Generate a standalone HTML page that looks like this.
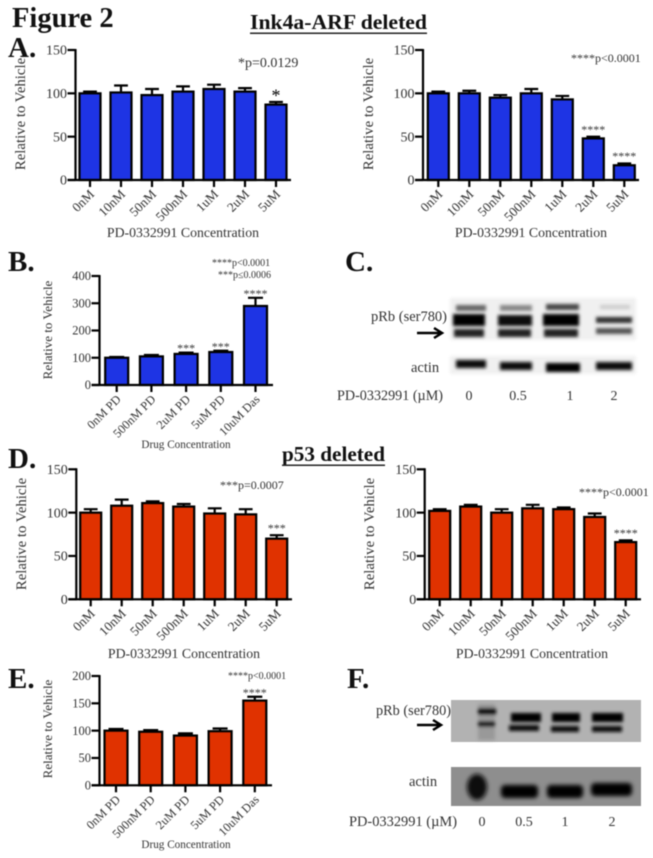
<!DOCTYPE html>
<html>
<head>
<meta charset="utf-8">
<title>Figure 2</title>
<style>
html,body{margin:0;padding:0;background:#fff;}
svg{display:block;font-family:"Liberation Serif",serif;}
#page{filter:blur(0.55px);}
</style>
</head>
<body>
<svg id="page" xmlns="http://www.w3.org/2000/svg" width="653" height="858" viewBox="0 0 653 858">
<defs>
<filter id="b1" x="-30%" y="-100%" width="160%" height="300%"><feGaussianBlur stdDeviation="1.6"/></filter>
<filter id="b2" x="-30%" y="-100%" width="160%" height="300%"><feGaussianBlur stdDeviation="2.2"/></filter>
</defs>
<rect width="653" height="858" fill="#fff"/>

<text x="12" y="27" font-size="28.500" font-weight="bold" fill="#111">Figure 2</text>
<text x="250" y="29" font-size="21" font-weight="bold" fill="#111" textLength="177" lengthAdjust="spacingAndGlyphs">Ink4a-ARF deleted</text>
<rect x="250" y="32.500" width="177" height="1.500" fill="#222"/>
<text x="282" y="461" font-size="21" font-weight="bold" fill="#111" textLength="103" lengthAdjust="spacingAndGlyphs">p53 deleted</text>
<rect x="282" y="464.500" width="103" height="1.500" fill="#222"/>

<text x="8" y="57" font-size="29" font-weight="bold" fill="#111">A.</text>
<text x="8" y="271" font-size="29" font-weight="bold" fill="#111">B.</text>
<text x="345" y="271" font-size="29" font-weight="bold" fill="#111">C.</text>
<text x="8" y="468" font-size="29" font-weight="bold" fill="#111">D.</text>
<text x="8" y="688" font-size="29" font-weight="bold" fill="#111">E.</text>
<text x="347" y="688" font-size="29" font-weight="bold" fill="#111">F.</text>

<text x="238" y="67" font-size="14" fill="#333">*p=0.0129</text>
<text x="571" y="62" font-size="12" fill="#333">****p&lt;0.0001</text>
<text x="212" y="266" font-size="10" fill="#333">****p&lt;0.0001</text>
<text x="218" y="278" font-size="10" fill="#333">***p≤0.0006</text>
<text x="220" y="489" font-size="12" fill="#333">***p=0.0007</text>
<text x="579" y="496" font-size="12" fill="#333">****p&lt;0.0001</text>
<text x="228" y="679" font-size="10" fill="#333">****p&lt;0.0001</text>

<g id="charts"></g>

<!-- Blot C -->
<g>
<rect x="450" y="298" width="186" height="42" fill="#f0f0f0" filter="url(#b1)"/>
<rect x="450" y="356" width="186" height="18" fill="#f0f0f0" filter="url(#b1)"/>
<g filter="url(#b1)">
<rect x="456" y="305" width="30" height="6" fill="#666"/><rect x="500" y="305" width="32" height="6" fill="#888"/><rect x="546" y="304" width="33" height="6" fill="#444"/><rect x="600" y="305" width="30" height="4" fill="#ccc"/>
<rect x="453" y="314" width="32" height="12" fill="#000"/><rect x="498" y="315" width="34" height="11" fill="#0c0c0c"/><rect x="543" y="314" width="36" height="12" fill="#000"/><rect x="596" y="317" width="36" height="6" fill="#333"/>
<rect x="454" y="329" width="30" height="8" fill="#222"/><rect x="498" y="329" width="33" height="8" fill="#222"/><rect x="544" y="329" width="34" height="8" fill="#222"/><rect x="596" y="328" width="36" height="6" fill="#555"/>
</g>
<g filter="url(#b1)">
<rect x="456" y="360" width="30" height="8" fill="#111"/><rect x="500" y="362" width="32" height="8" fill="#111"/><rect x="546" y="363" width="34" height="9" fill="#000"/><rect x="596" y="362" width="36" height="8" fill="#111"/>
</g>
</g>
<text x="371" y="321" font-size="14.500" fill="#333" textLength="76" lengthAdjust="spacingAndGlyphs">pRb (ser780)</text>
<path d="M417 333H441M434 328L442 333L434 338" fill="none" stroke="#000" stroke-width="2.500"/>
<text x="411" y="372" font-size="14.500" fill="#333">actin</text>
<text x="337" y="400" font-size="14.500" fill="#333" textLength="106" lengthAdjust="spacingAndGlyphs">PD-0332991 (µM)</text>
<text x="469" y="400" font-size="14" fill="#333" text-anchor="middle">0</text>
<text x="518" y="400" font-size="14" fill="#333" text-anchor="middle">0.5</text>
<text x="570" y="400" font-size="14" fill="#333" text-anchor="middle">1</text>
<text x="614" y="400" font-size="14" fill="#333" text-anchor="middle">2</text>

<!-- Blot F -->
<g>
<rect x="451" y="700" width="190" height="42" fill="#b2b2b2"/>
<rect x="451" y="767" width="190" height="39" fill="#8e8e8e"/>
<g filter="url(#b1)">
<rect x="478" y="704" width="17" height="36" fill="#999"/>
<rect x="478" y="708" width="18" height="7" fill="#111"/><rect x="478" y="721" width="17" height="6" fill="#222"/>
<rect x="511" y="713" width="30" height="9" fill="#000"/><rect x="509" y="725" width="30" height="6" fill="#111"/>
<rect x="552" y="713" width="28" height="9" fill="#000"/><rect x="551" y="726" width="28" height="6" fill="#111"/>
<rect x="592" y="713" width="31" height="9" fill="#000"/><rect x="592" y="726" width="30" height="6" fill="#111"/>
</g>
<g filter="url(#b2)">
<ellipse cx="477" cy="787" rx="10" ry="13" fill="#111"/>
<rect x="501" y="785" width="37" height="13" rx="4" fill="#000"/>
<rect x="547" y="785" width="36" height="13" rx="4" fill="#000"/>
<rect x="591" y="783" width="41" height="13" rx="4" fill="#000"/>
</g>
</g>
<text x="376" y="715" font-size="14.500" fill="#333" textLength="75" lengthAdjust="spacingAndGlyphs">pRb (ser780)</text>
<path d="M417 725H440M433 720L441 725L433 730" fill="none" stroke="#000" stroke-width="2.500"/>
<text x="409" y="786" font-size="14.500" fill="#333">actin</text>
<text x="349" y="826" font-size="14.500" fill="#333" textLength="108" lengthAdjust="spacingAndGlyphs">PD-0332991 (µM)</text>
<text x="482" y="826" font-size="14" fill="#333" text-anchor="middle">0</text>
<text x="524" y="826" font-size="14" fill="#333" text-anchor="middle">0.5</text>
<text x="565" y="826" font-size="14" fill="#333" text-anchor="middle">1</text>
<text x="612" y="826" font-size="14" fill="#333" text-anchor="middle">2</text>
</svg>

<script>
var doseCategories = ['0nM','10nM','50nM','500nM','1uM','2uM','5uM'];
var drugCategories = ['0nM PD','500nM PD','2uM PD','5uM PD','10uM Das'];
var ticks150 = [0,50,100,150];
var ticksB = [0,100,200,300,400];
var ticksE = [0,50,100,150,200];

var valuesA1 = [100,101,98,102,105,102,87];
var errorsA1 = [2,8,7,6,5,4,3];
var starsA1 = ['','','','','','','*'];

var valuesA2 = [100,100,95,100,93,48,17];
var errorsA2 = [2,3,3,5,4,2,2];
var starsA2 = ['','','','','','****','****'];

var valuesB = [100,105,114,121,290];
var errorsB = [3,5,5,5,30];
var starsB = ['','','***','***','****'];

var valuesD1 = [100,108,111,107,99,98,70];
var errorsD1 = [4,7,2,3,6,6,4];
var starsD1 = ['','','','','','','***'];

var valuesD2 = [102,107,100,105,104,95,66];
var errorsD2 = [2,2,4,4,2,4,2];
var starsD2 = ['','','','','','','****'];

var valuesE = [100,98,91,99,155];
var errorsE = [3,3,4,5,7];
var starsE = ['','','','','****'];

var NS = 'http://www.w3.org/2000/svg';
var root = document.getElementById('charts');

function mk(tag, attrs, parent, text) {
  var el = document.createElementNS(NS, tag);
  for (var k in attrs) el.setAttribute(k, attrs[k]);
  if (text !== undefined) el.textContent = text;
  parent.appendChild(el);
  return el;
}

function drawChart(o) {
  var g = mk('g', {}, root);
  
  
  var yMax = o.ticks[o.ticks.length - 1];
  function yScale(v) { return o.y0 - (o.y0 - o.yTop) * v / yMax; }
  function xScale(i) { return o.firstX + o.step * i; }
  var ink = '#000';

  o.values.forEach(function (v, i) {
    var cx = xScale(i), top = yScale(v), et = yScale(v + o.errors[i]);
    var err = mk('path', {d: 'M' + cx + ' ' + top + 'V' + et + 'M' + (cx - o.barW * 0.3) + ' ' + et + 'H' + (cx + o.barW * 0.3), stroke: ink, 'stroke-width': 2.2, fill: 'none'}, g);
    
    
    var bar = mk('rect', {x: cx - o.barW / 2 + 1, y: top, width: o.barW - 2, height: o.y0 - top, fill: o.color, stroke: ink, 'stroke-width': 2.2}, g);
    
    
    if (o.stars[i]) {
      var size = o.stars[i] === '*' ? 18 : o.starSize;
      var star = mk('text', {x: cx, y: et - o.starGap + 0.47 * size, 'font-size': size, 'text-anchor': 'middle', fill: o.stars[i] === '*' ? '#000' : '#333'}, g, o.stars[i]);
      
      
    }
    var tick = mk('line', {x1: cx, x2: cx, y1: o.y0, y2: o.y0 + 7, stroke: ink, 'stroke-width': 2.2}, g);
    
    
    var lx = cx + 5, ly = o.y0 + 15;
    var lab = mk('text', {x: lx, y: ly, 'font-size': o.catSize, 'text-anchor': 'end', fill: '#333', transform: 'rotate(-45 ' + lx + ' ' + ly + ')'}, g, o.categories[i]);
    
    
  });

  o.ticks.forEach(function (t) {
    var y = yScale(t);
    var tk = mk('line', {x1: o.axisX - 8, x2: o.axisX, y1: y, y2: y, stroke: ink, 'stroke-width': 2.2}, g);
    
    
    var tl = mk('text', {x: o.axisX - 8.5, y: y + o.tickSize * 0.33, 'font-size': o.tickSize, 'text-anchor': 'end', fill: '#333'}, g, String(t));
    
    
  });

  var ya = mk('line', {x1: o.axisX, x2: o.axisX, y1: o.yTop - 1, y2: o.y0 + 1, stroke: ink, 'stroke-width': 2.2}, g);
  
  
  var xa = mk('line', {x1: o.axisX - 8, x2: o.axisEnd, y1: o.y0, y2: o.y0, stroke: ink, 'stroke-width': 2.2}, g);
  
  

  var ty = mk('text', {x: o.yTitleX, y: o.yTitleY, 'font-size': o.yTitleSize, 'text-anchor': 'middle', fill: '#333', transform: 'rotate(-90 ' + o.yTitleX + ' ' + o.yTitleY + ')'}, g, 'Relative to Vehicle');
  
  
  var tx = mk('text', {x: o.xTitleX, y: o.xTitleY, 'font-size': o.xTitleSize, 'text-anchor': 'middle', fill: '#333'}, g, o.xTitle);
  
  
}

var BLUE = '#1e34e4', RED = '#e03200';
var PD = 'PD-0332991 Concentration', DRUG = 'Drug Concentration';
function large(o) {
  o.step = 31; o.barW = 23; o.tickSize = 14; o.catSize = 13.2; o.starSize = 12; o.starGap = 9;
  o.yTitleSize = 14.8; o.xTitleSize = 13.8; o.xTitle = PD; o.categories = doseCategories; o.ticks = ticks150;
  drawChart(o);
}
function small(o) {
  o.step = 34.7; o.barW = 25; o.tickSize = 12.5; o.catSize = 12.3; o.starSize = 12; o.starGap = 6;
  o.yTitleSize = 13; o.xTitleSize = 11.2; o.xTitle = DRUG; o.categories = drugCategories;
  drawChart(o);
}

large({name:'chart-a-left', values:valuesA1, errors:errorsA1, stars:starsA1, color:BLUE, axisX:75.5, axisEnd:291, firstX:90, y0:180, yTop:50, yTitleX:25, yTitleY:114, xTitleX:183, xTitleY:237});
large({name:'chart-a-right', values:valuesA2, errors:errorsA2, stars:starsA2, color:BLUE, axisX:423, axisEnd:639, firstX:438.3, y0:180, yTop:50, yTitleX:373, yTitleY:114, xTitleX:531, xTitleY:237});
small({name:'chart-b', values:valuesB, errors:errorsB, stars:starsB, ticks:ticksB, color:BLUE, axisX:99.5, axisEnd:273, firstX:116.7, y0:385, yTop:276, yTitleX:52, yTitleY:330, xTitleX:186, xTitleY:448});
large({name:'chart-d-left', values:valuesD1, errors:errorsD1, stars:starsD1, color:RED, axisX:76.3, axisEnd:292, firstX:90.7, y0:599.3, yTop:469.3, yTitleX:26, yTitleY:534, xTitleX:184, xTitleY:658});
large({name:'chart-d-right', values:valuesD2, errors:errorsD2, stars:starsD2, color:RED, axisX:424.7, axisEnd:641, firstX:439.7, y0:599.3, yTop:469.3, yTitleX:374, yTitleY:534, xTitleX:532, xTitleY:658});
small({name:'chart-e', values:valuesE, errors:errorsE, stars:starsE, ticks:ticksE, color:RED, axisX:99.5, axisEnd:272, firstX:116, y0:785.3, yTop:676, yTitleX:52, yTitleY:729, xTitleX:186, xTitleY:848});
</script>
</body>
</html>
